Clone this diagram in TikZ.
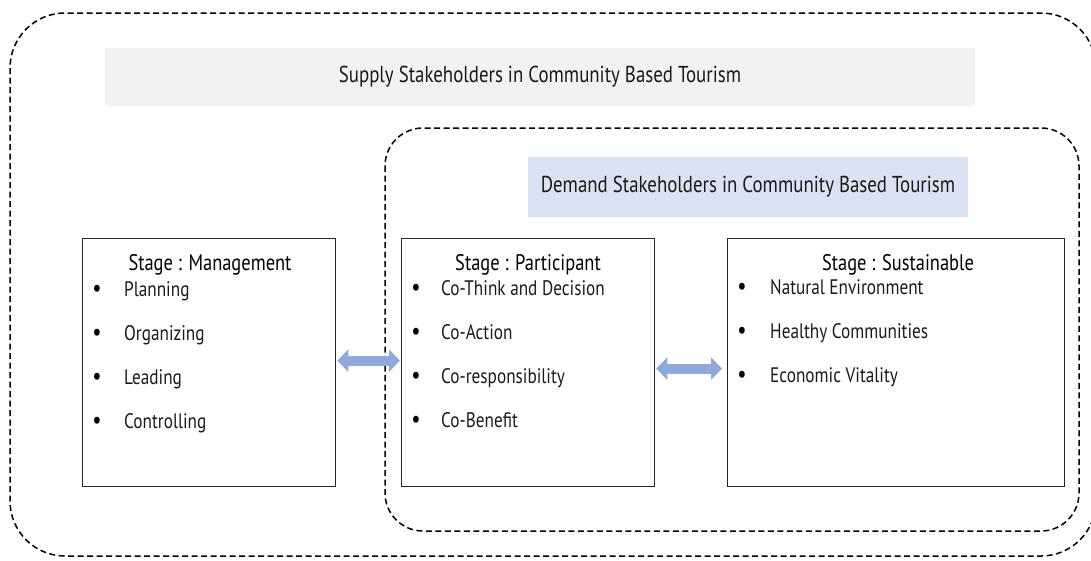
\documentclass[tikz,border=0pt]{standalone}
\usepackage{fontspec}
\setmainfont{PT Sans}[FakeStretch=0.82]
\usetikzlibrary{arrows.meta}
\definecolor{supplygray}{HTML}{F2F2F2}
\definecolor{demandblue}{HTML}{DAE3F3}
\definecolor{arrowblue}{HTML}{8EA9DB}
\definecolor{txt}{HTML}{1A1A1A}
\tikzset{
  x=1pt,y=-1pt,
  group/.style={draw=black, line width=1.5pt, dash pattern=on 6pt off 3.5pt},
  banner/.style={inner sep=0pt, font=\fontsize{23}{26}\selectfont, text=txt},
  stagebox/.style={draw=black!85, line width=1.3pt, inner sep=0pt, anchor=north west},
  stagetitle/.style={font=\fontsize{22.5}{26}\selectfont, text=black, anchor=base},
  item/.style={font=\fontsize{21}{24}\selectfont, text=txt, anchor=base west, inner sep=0pt},
  dot/.style={font=\fontsize{25}{26}\selectfont, text=black, anchor=base, inner sep=0pt},
  link/.style={line width=10pt, arrowblue, {Triangle[width=22pt,length=11pt]}-{Triangle[width=22pt,length=11pt]}, shorten <=1pt, shorten >=1pt}
}
\begin{document}
\begin{tikzpicture}
\useasboundingbox (0,0) rectangle (1091,560);
\begin{scope}
\clip (0,0) rectangle (1091,560);
\draw[group, rounded corners=55pt] (10,13) rectangle (1096,556);
\end{scope}
\draw[group, rounded corners=38pt] (385,128) rectangle (1079,531);

\node[banner, fill=supplygray, minimum width=870pt, minimum height=58pt] (supply) at (540,77) {Supply Stakeholders in Community Based Tourism};
\node[banner, fill=demandblue, minimum width=440pt, minimum height=60pt] (demand) at (748,187) {Demand Stakeholders in Community Based Tourism};

\node[stagebox, minimum width=253pt, minimum height=248pt] (mgmt) at (82,238) {};
\node[stagebox, minimum width=253pt, minimum height=248pt] (part) at (401,238) {};
\node[stagebox, minimum width=337pt, minimum height=248pt] (sust) at (727,238) {};

\node[stagetitle] (mt) at (210,270) {Stage : Management};
\node[stagetitle] (pt) at (528,270) {Stage : Participant};
\node[stagetitle] (st) at (898,270) {Stage : Sustainable};

\node[dot] (mb1) at (97,296) {•};
\node[item] (mi1) at (124,296) {Planning};
\node[dot] (mb2) at (97,340) {•};
\node[item] (mi2) at (124,340) {Organizing};
\node[dot] (mb3) at (97,384) {•};
\node[item] (mi3) at (124,384) {Leading};
\node[dot] (mb4) at (97,428) {•};
\node[item] (mi4) at (124,428) {Controlling};

\node[dot] (pb1) at (416,295) {•};
\node[item] (pi1) at (441,295) {Co-Think and Decision};
\node[dot] (pb2) at (416,339) {•};
\node[item] (pi2) at (441,339) {Co-Action};
\node[dot] (pb3) at (416,383) {•};
\node[item] (pi3) at (441,383) {Co-responsibility};
\node[dot] (pb4) at (416,427) {•};
\node[item] (pi4) at (441,427) {Co-Benefit};

\node[dot] (sb1) at (742,294) {•};
\node[item] (si1) at (770,294) {Natural Environment};
\node[dot] (sb2) at (742,338) {•};
\node[item] (si2) at (770,338) {Healthy Communities};
\node[dot] (sb3) at (742,382) {•};
\node[item] (si3) at (770,382) {Economic Vitality};

\draw[link] ([yshift=2pt]mgmt.east) -- ([yshift=2pt]part.west);
\draw[link] ([yshift=-6pt]part.east) -- ([yshift=-6pt,xshift=-4pt]sust.west);
\end{tikzpicture}
\end{document}
